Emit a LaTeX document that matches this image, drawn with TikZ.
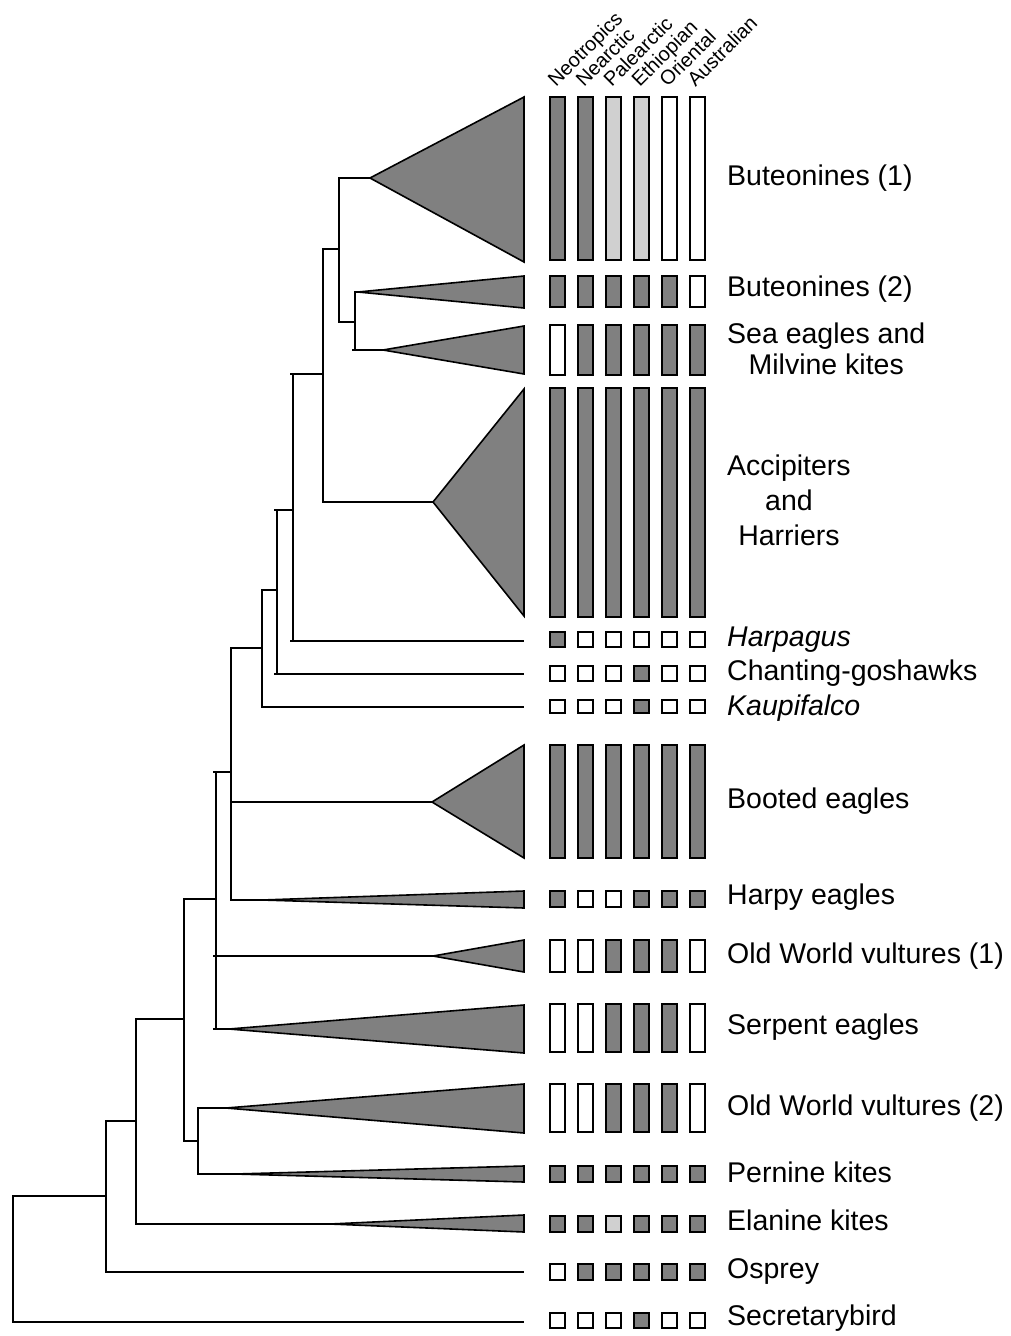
\documentclass[tikz,border=0pt]{standalone}
\usepackage{fontspec}
\setmainfont{Liberation Sans}
\usetikzlibrary{calc}
\definecolor{dk}{HTML}{808080}
\definecolor{lt}{HTML}{D0D0D0}
\newcommand\myedge[2]{\draw[tree] (#1) |- (#2);}
\newcommand\mytedge[2]{\draw[tree] (#1) |- (#2); \draw[tree] ($(#1 |- #2)+(-3,0)$) -- (#1 |- #2);}
\newcommand\mytri[3]{\draw[tri] (#1) -- (524,#2) -- (524,#3) -- cycle;}
\newcommand\mybars[3]{\foreach \f [count=\i from 0] in {#3} {\draw[bar, fill=\f] ({550+27.9*\i},#1) rectangle +(15,#2);}}
\begin{document}
\begin{tikzpicture}[x=1pt,y=-1pt,
  tree/.style={line width=1.8pt},
  tri/.style={draw=black, fill=dk, line width=1.6pt, line join=miter},
  bar/.style={draw=black, line width=2pt},
  lab/.style={anchor=west, inner sep=0pt, font=\fontsize{28.5}{33}\selectfont, align=center},
  hdr/.style={anchor=base west, inner sep=0pt, rotate=45, font=\fontsize{20}{20}\selectfont}]
\useasboundingbox (0,0) rectangle (1010,1336);
% internal nodes
\coordinate (R) at (13,1259);
\coordinate (A) at (106,1196);
\coordinate (B) at (136,1121);
\coordinate (C) at (184,1019);
\coordinate (E) at (198,1141);
\coordinate (D) at (216,899);
\coordinate (F) at (231,772);
\coordinate (G) at (262,648);
\coordinate (H) at (277,590);
\coordinate (I) at (293,510);
\coordinate (J) at (323,374);
\coordinate (K) at (339,249);
\coordinate (L) at (355,322);
% leaves (apex of clade triangles or tip)
\coordinate (but1) at (370,178);
\coordinate (but2) at (358,292);
\coordinate (sea) at (383,350);
\coordinate (acc) at (433,502);
\coordinate (harpagus) at (524,641);
\coordinate (chant) at (524,674);
\coordinate (kaupi) at (524,707);
\coordinate (booted) at (432,802);
\coordinate (harpy) at (262,900);
\coordinate (owv1) at (433,956);
\coordinate (serp) at (229,1029);
\coordinate (owv2) at (226,1108);
\coordinate (pern) at (235,1174);
\coordinate (elan) at (330,1224);
\coordinate (osp) at (524,1272);
\coordinate (sec) at (524,1322);
% triangles
\mytri{but1}{97}{262}
\mytri{but2}{276}{308}
\mytri{sea}{326}{374}
\mytri{acc}{389}{616}
\mytri{booted}{745}{858}
\mytri{harpy}{891}{908}
\mytri{owv1}{940}{972}
\mytri{serp}{1005}{1053}
\mytri{owv2}{1084}{1133}
\mytri{pern}{1166}{1182}
\mytri{elan}{1215}{1232}
% edges
\myedge{R}{A}
\myedge{R}{sec}
\myedge{A}{B}
\myedge{A}{osp}
\myedge{B}{C}
\myedge{B}{elan}
\myedge{C}{D}
\myedge{C}{E}
\myedge{E}{owv2}
\myedge{E}{pern}
\mytedge{D}{F}
\mytedge{D}{owv1}
\mytedge{D}{serp}
\myedge{F}{G}
\myedge{F}{booted}
\myedge{F}{harpy}
\myedge{G}{H}
\myedge{G}{kaupi}
\mytedge{H}{I}
\mytedge{H}{chant}
\mytedge{I}{J}
\mytedge{I}{harpagus}
\myedge{J}{K}
\myedge{J}{acc}
\myedge{K}{but1}
\myedge{K}{L}
\myedge{L}{but2}
\mytedge{L}{sea}
% distribution bars
\mybars{97}{163}{dk,dk,lt,lt,white,white}
\mybars{276}{31}{dk,dk,dk,dk,dk,white}
\mybars{325}{50}{white,dk,dk,dk,dk,dk}
\mybars{388}{229}{dk,dk,dk,dk,dk,dk}
\mybars{632}{15}{dk,white,white,white,white,white}
\mybars{666}{15}{white,white,white,dk,white,white}
\mybars{700}{13}{white,white,white,dk,white,white}
\mybars{745}{113}{dk,dk,dk,dk,dk,dk}
\mybars{891}{16}{dk,white,white,dk,dk,dk}
\mybars{940}{32}{white,white,dk,dk,dk,white}
\mybars{1004}{48}{white,white,dk,dk,dk,white}
\mybars{1084}{48}{white,white,dk,dk,dk,white}
\mybars{1166}{16}{dk,dk,dk,dk,dk,dk}
\mybars{1216}{16}{dk,dk,lt,dk,dk,dk}
\mybars{1264}{16}{white,dk,dk,dk,dk,dk}
\mybars{1313}{15}{white,white,white,dk,white,white}
% header labels
\node[hdr] (h1) at (556,88) {Neotropics};
\node[hdr] (h2) at (583.9,88) {Nearctic};
\node[hdr] (h3) at (611.8,88) {Palearctic};
\node[hdr] (h4) at (639.7,88) {Ethiopian};
\node[hdr] (h5) at (667.6,88) {Oriental};
\node[hdr] (h6) at (695.5,88) {Australian};
% clade labels
\node[lab] (l1) at (727,178) {Buteonines (1)};
\node[lab] (l2) at (727,289) {Buteonines (2)};
\node[lab, font=\fontsize{28.5}{31}\selectfont] (l3) at (727,349) {Sea eagles and\\Milvine kites};
\node[lab, font=\fontsize{28.5}{35}\selectfont] (l4) at (727,500) {Accipiters\\and\\Harriers};
\node[lab] (l5) at (727,640) {\itshape Harpagus};
\node[lab] (l6) at (727,673) {Chanting-goshawks};
\node[lab] (l7) at (727,708) {\itshape Kaupifalco};
\node[lab] (l8) at (727,801) {Booted eagles};
\node[lab] (l9) at (727,897) {Harpy eagles};
\node[lab] (l10) at (727,956) {Old World vultures (1)};
\node[lab] (l11) at (727,1027) {Serpent eagles};
\node[lab] (l12) at (727,1108) {Old World vultures (2)};
\node[lab] (l13) at (727,1172) {Pernine kites};
\node[lab] (l14) at (727,1220) {Elanine kites};
\node[lab] (l15) at (727,1271) {Osprey};
\node[lab] (l16) at (727,1318) {Secretarybird};
\end{tikzpicture}
\end{document}
